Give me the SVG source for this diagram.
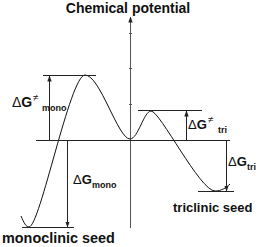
<svg xmlns="http://www.w3.org/2000/svg" width="258" height="247" viewBox="0 0 258 247">
<style>
.ln{stroke:#222;stroke-width:1;fill:none}
.ax{stroke:#555;stroke-width:1;fill:none}
.cv{stroke:#111;stroke-width:1;fill:none}
.t{font-family:"Liberation Sans",Arial,sans-serif;fill:#111}
.b{font-weight:bold}
</style>
<defs>
<marker id="ah" viewBox="0 0 6 6" refX="5.5" refY="3" markerWidth="6" markerHeight="6" markerUnits="userSpaceOnUse" orient="auto">
<path d="M0,0.8 L6,3 L0,5.2 Z" fill="#222"/>
</marker>
</defs>
<rect width="258" height="247" fill="#fff"/>
<g id="axis">
<line class="ax" x1="130.5" y1="228" x2="130.5" y2="17" marker-end="url(#ah)"/>
<path class="ax" d="M129,33.5H132M129,68.5H132M129,104.5H132"/>
<text class="t b" x="128" y="13" font-size="14" text-anchor="middle">Chemical potential</text>
</g>
<g id="curve">
<path class="cv" d="M21,216 C24,223 26,227 29,227 C40,227 70,75 85,75 C100,75 118,139 130,139 C138,139 144,111 151,111 C160,111 200,191 215,191 C221,191 226,188 230,184"/>
</g>
<g id="connectors">
<line class="ln" x1="43" y1="75.5" x2="96" y2="75.5"/>
<line class="ln" x1="36" y1="140.5" x2="230" y2="140.5"/>
<line class="ln" x1="22" y1="227.5" x2="74" y2="227.5"/>
<line class="ln" x1="138" y1="110.5" x2="202" y2="110.5"/>
<line class="ln" x1="198" y1="191.5" x2="234" y2="191.5"/>
<line class="ln" x1="49.5" y1="140" x2="49.5" y2="76" marker-end="url(#ah)"/>
<line class="ln" x1="67.5" y1="140" x2="67.5" y2="227" marker-end="url(#ah)"/>
<line class="ln" x1="186.5" y1="140" x2="186.5" y2="111" marker-end="url(#ah)"/>
<line class="ln" x1="226.5" y1="140" x2="226.5" y2="191" marker-end="url(#ah)"/>
</g>
<g id="dG-act-mono">
<text class="t" x="12" y="107" font-size="14">Δ<tspan class="b">G</tspan></text>
<text class="t" x="33" y="101" font-size="10">≠</text>
<text class="t b" x="42" y="111" font-size="9">mono</text>
</g>
<g id="dG-mono">
<text class="t" x="73" y="184" font-size="13">Δ<tspan class="b">G</tspan></text>
<text class="t b" x="92" y="188" font-size="9">mono</text>
</g>
<g id="dG-act-tri">
<text class="t" x="188" y="129" font-size="13">Δ<tspan class="b">G</tspan></text>
<text class="t" x="208" y="123" font-size="10">≠</text>
<text class="t b" x="218" y="133" font-size="9">tri</text>
</g>
<g id="dG-tri">
<text class="t" x="228" y="166" font-size="13">Δ<tspan class="b">G</tspan></text>
<text class="t b" x="247" y="170" font-size="9">tri</text>
</g>
<g id="triclinic">
<text class="t b" x="173" y="212" font-size="13">triclinic seed</text>
</g>
<g id="monoclinic">
<text class="t b" x="2" y="243" font-size="14.4">monoclinic seed</text>
</g>
</svg>
